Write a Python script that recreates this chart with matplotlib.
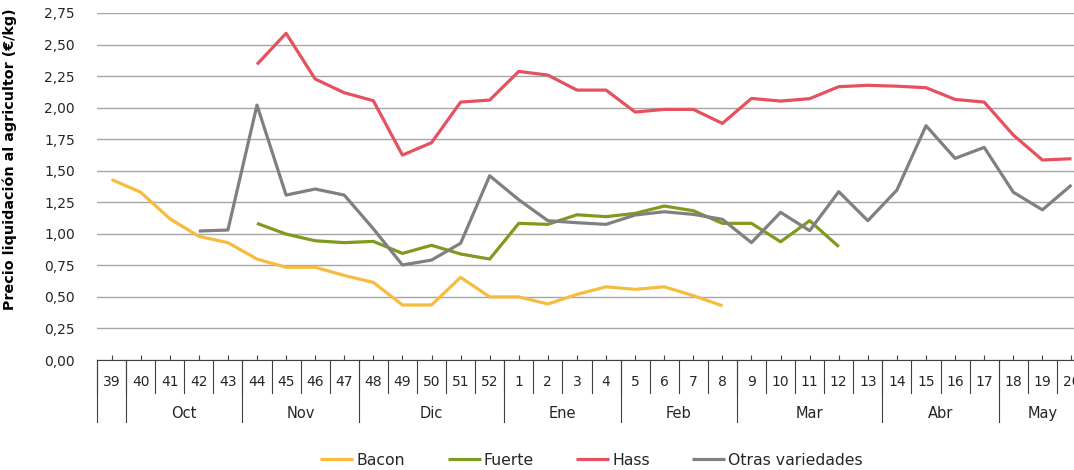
import numpy as np
import matplotlib
matplotlib.use("Agg")
import matplotlib.pyplot as plt
from matplotlib.lines import Line2D

weeks = list(range(39, 53)) + list(range(1, 21))
month_labels = ["", "Oct", "Nov", "Dic", "Ene", "Feb", "Mar", "Abr", "May"]
month_sizes = [1, 4, 4, 5, 4, 4, 5, 4, 3]

N = None
bacon = [1.43, 1.33, 1.12, 0.98, 0.93, 0.80, 0.735, 0.735, 0.67, 0.615, 0.436, 0.436,
         0.655, 0.50, 0.50, 0.444, 0.52, 0.58, 0.56, 0.58, 0.51, 0.43,
         N, N, N, N, N, N, N, N, N, N, N, N]
fuerte = [N, N, N, N, N, 1.083, 0.998, 0.945, 0.93, 0.94, 0.845, 0.909, 0.84, 0.80,
          1.083, 1.075, 1.151, 1.136, 1.162, 1.22, 1.183, 1.083, 1.083, 0.937, 1.104, 0.898,
          N, N, N, N, N, N, N, N]
hass = [N, N, N, N, N, 2.343, 2.589, 2.227, 2.118, 2.055, 1.624, 1.722, 2.044, 2.06,
        2.287, 2.258, 2.139, 2.139, 1.965, 1.986, 1.986, 1.875, 2.073, 2.052, 2.071, 2.166,
        2.177, 2.17, 2.158, 2.065, 2.044, 1.783, 1.585, 1.595]
otras = [N, N, N, 1.022, 1.03, 2.02, 1.307, 1.355, 1.307, 1.04, 0.753, 0.792, 0.925, 1.46,
         1.27, 1.104, 1.088, 1.075, 1.149, 1.175, 1.154, 1.115, 0.93, 1.17, 1.025, 1.334,
         1.104, 1.347, 1.857, 1.598, 1.685, 1.33, 1.19, 1.387]

series = [("Bacon", bacon, "#F6BC3F"), ("Fuerte", fuerte, "#7E9B1E"),
          ("Hass", hass, "#E6515F"), ("Otras variedades", otras, "#808080")]

plt.rcParams["font.family"] = ["DejaVu Sans"]
TXT = "#262626"

fig = plt.figure(figsize=(10.74, 4.70), dpi=100)
# axes runs slightly past the right edge (the reference is cut off there)
ax = fig.add_axes([97 / 1074, 1 - 360 / 470, 989 / 1074, 347 / 470])

x = np.arange(len(weeks))
for name, vals, col in series:
    y = np.array([np.nan if v is None else v for v in vals], dtype=float)
    ax.plot(x, y, color=col, lw=2.3, label=name, solid_joinstyle="round",
            solid_capstyle="butt", zorder=3)

ax.set_xlim(-0.5, len(weeks) - 0.5)
ax.set_ylim(0, 2.75)
yt = np.arange(0, 2.76, 0.25)
ax.set_yticks(yt)
ax.set_yticklabels([f"{v:.2f}".replace(".", ",") for v in yt], fontsize=10, color=TXT)
ax.tick_params(axis="y", length=0, pad=16)
ax.grid(axis="y", color="#a6a6a6", lw=1.0, zorder=0)
ax.set_xticks(x)
ax.set_xticklabels([])
ax.tick_params(axis="x", direction="in", length=3.5, width=0.8, color="#404040")
for s in ["top", "right", "left"]:
    ax.spines[s].set_visible(False)
ax.spines["bottom"].set_color("#404040")
ax.spines["bottom"].set_linewidth(0.8)

ax.set_ylabel("Precio liquidación al agricultor (€/kg)", fontsize=10.3,
              fontweight="bold", color="black")
ax.yaxis.set_label_coords(-0.081, 0.58)

tr = ax.get_xaxis_transform()
# week cells
for i, w in enumerate(weeks):
    ax.text(i, -0.064, str(w), transform=tr, ha="center", va="center",
            fontsize=10, color=TXT, clip_on=False)
for i in range(len(weeks) + 1):
    ax.add_line(Line2D([i - 0.5, i - 0.5], [0, -0.095], transform=tr,
                       color="#404040", lw=0.8, clip_on=False))
# month cells
start = 0
for lab, n in zip(month_labels, month_sizes):
    ax.add_line(Line2D([start - 0.5, start - 0.5], [0, -0.179], transform=tr,
                       color="#404040", lw=0.8, clip_on=False))
    ax.text(start + (n - 1) / 2, -0.153, lab, transform=tr, ha="center",
            va="center", fontsize=10.5, color=TXT, clip_on=False)
    start += n

fig.legend(loc="lower center", bbox_to_anchor=(0.551, -0.025), ncol=4,
           frameon=False, fontsize=11.3, handlelength=2.1, handletextpad=0.2,
           columnspacing=2.7, labelcolor=TXT)

fig.savefig("out.png", dpi=100, facecolor="white")
